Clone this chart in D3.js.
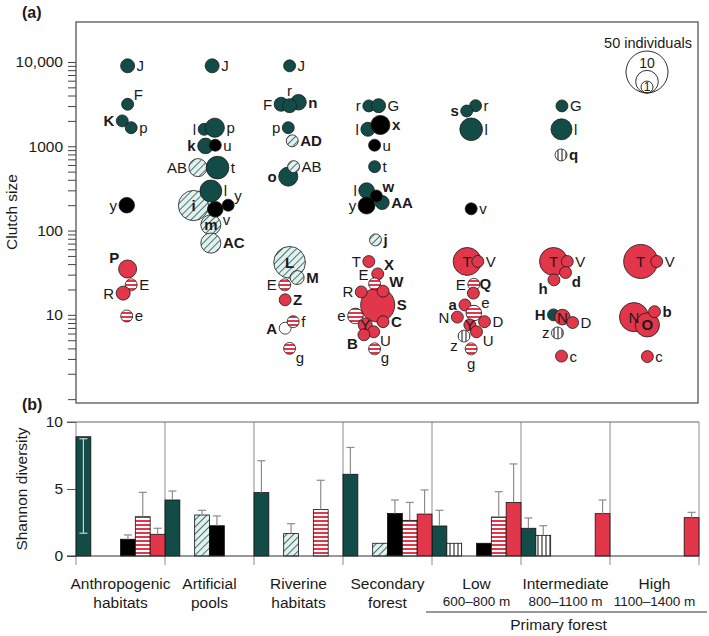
<!DOCTYPE html>
<html>
<head>
<meta charset="utf-8">
<script src="https://cdn.jsdelivr.net/npm/d3@7"></script>
<style>
body { margin: 0; background: #fff; }
svg text { font-family: "Liberation Sans", Arial, sans-serif; fill: #1a1a1a; }
</style>
</head>
<body>
<svg id="chart" width="709" height="636"></svg>
<script>
// habitats (x categories, shared by both panels)
var habitats = ["Anthropogenic habitats", "Artificial pools", "Riverine habitats", "Secondary forest", "Low", "Intermediate", "High"];
var habitatTop = ["Anthropogenic", "Artificial", "Riverine", "Secondary", "Low", "Intermediate", "High"];
var habitatSub = ["habitats", "pools", "habitats", "forest", "600–800 m", "800–1100 m", "1100–1400 m"];

// reproductive modes, in bar order: G green, V vertical stripes, H hatched, K black, S red stripes, R red, W open
var modes = ["G", "V", "H", "K", "S", "R"];

// panel (a): [species, clutch size, individuals, mode] per habitat
var anthropogenic = [["J", 9000, 2, "G"], ["F", 3150, 1, "G"], ["K", 2000, 1, "G"], ["p", 1660, 1, "G"], ["y", 200, 3, "K"],
  ["P", 35, 5, "R"], ["E", 22.7, 1, "S"], ["R", 18.1, 2, "R"], ["e", 9.7, 1, "S"]];
var pools = [["J", 9000, 2, "G"], ["l", 1590, 1, "G"], ["p", 1660, 6, "G"], ["k", 1010, 3, "G"], ["u", 1030, 1, "K"],
  ["AB", 558, 5, "H"], ["t", 558, 10, "G"], ["i", 198, 22, "H"], ["l", 295, 9, "G"], ["m", 117, 7, "H"],
  ["AC", 71, 7, "H"], ["v", 179, 3, "K"], ["y", 200, 1, "K"]];
var riverine = [["J", 9000, 1, "G"], ["F", 3150, 2, "G"], ["n", 3330, 3, "G"], ["r", 3030, 2, "G"], ["p", 1660, 1, "G"],
  ["AD", 1160, 1, "H"], ["o", 437, 6, "G"], ["AB", 573, 1, "H"], ["L", 42, 25, "H"], ["M", 27.7, 2, "H"],
  ["E", 22.7, 1, "S"], ["Z", 15.1, 1, "R"], ["A", 6.95, 1, "W"], ["f", 8.3, 1, "S"], ["g", 4.0, 1, "S"]];
var secondary = [["r", 3010, 1, "G"], ["G", 3030, 2, "G"], ["l", 1590, 2, "G"], ["x", 1790, 6, "K"], ["u", 1030, 1, "K"],
  ["t", 573, 1, "G"], ["l", 298, 3, "G"], ["AA", 215, 2, "G"], ["w", 257, 1, "K"], ["y", 198, 4, "K"],
  ["j", 77.5, 1, "H"], ["S", 13.1, 30, "R"], ["T", 42.9, 1, "R"], ["X", 30.6, 1, "R"], ["E", 23.3, 1, "S"],
  ["W", 19.1, 1, "R"], ["R", 18.7, 1, "R"], ["e", 9.7, 3, "S"], ["C", 8.3, 1, "R"], ["Y", 7.6, 2, "R"],
  ["U", 6.3, 1, "R"], ["B", 5.8, 1, "R"], ["g", 3.95, 1, "S"]];
var lowForest = [["r", 3030, 1, "G"], ["s", 2620, 1, "G"], ["l", 1590, 10, "G"], ["v", 181, 1, "K"], ["T", 43, 18, "R"],
  ["V", 43, 1, "R"], ["E", 23, 1, "S"], ["Q", 18.1, 1, "R"], ["a", 13.1, 1, "R"], ["e", 10.5, 3, "S"],
  ["N", 9.4, 1, "R"], ["D", 8.3, 1, "R"], ["Y", 7.6, 1, "R"], ["U", 6.3, 1, "R"], ["z", 5.6, 1, "V"], ["g", 3.95, 1, "S"]];
var midForest = [["G", 3010, 1, "G"], ["l", 1590, 8, "G"], ["q", 789, 1, "V"], ["T", 43, 18, "R"], ["V", 43, 1, "R"],
  ["d", 31.8, 1, "R"], ["h", 26, 1, "R"], ["H", 10, 1, "G"], ["N", 9.4, 3, "R"], ["D", 8.1, 1, "R"],
  ["z", 6.1, 1, "V"], ["c", 3.24, 1, "R"]];
var highForest = [["T", 43, 30, "R"], ["V", 43, 1, "R"], ["N", 9.4, 20, "R"], ["O", 7.6, 12, "R"], ["b", 10.9, 1, "R"], ["c", 3.2, 1, "R"]];
var boldSpecies = ["K", "P", "k", "i", "m", "AC", "n", "AD", "o", "L", "M", "Z", "A", "x", "w", "AA", "j", "X", "W", "S",
  "C", "B", "s", "Q", "a", "q", "d", "h", "H", "O", "b"];

// layout of the swarm: [horizontal jitter in column widths, label side], same order as above
var jitAnthro = [[.08, "r"], [.08, "tr"], [.02, "l"], [.12, "r"], [.07, "l"], [.08, "tl"], [.12, "r"], [.03, "l"], [.07, "r"]];
var jitPools = [[.03, "r"], [-.06, "l"], [.06, "r"], [-.045, "l"], [.065, "r"], [-.13, "l"], [.09, "r"], [-.18, "c"],
  [.015, "r"], [.015, "c"], [.015, "r"], [.065, "br"], [.21, "tr"]];
var jitRiver = [[-.10, "r"], [-.195, "l"], [0, "r"], [-.10, "t"], [-.115, "l"], [-.07, "r"], [-.115, "l"], [-.055, "r"],
  [-.10, "c"], [-.015, "r"], [-.155, "l"], [-.15, "r"], [-.15, "l"], [-.06, "r"], [-.10, "br"]];
var jitSecond = [[-.21, "l"], [-.10, "r"], [-.22, "l"], [-.08, "r"], [-.145, "r"], [-.145, "r"], [-.235, "l"], [-.06, "r"],
  [-.125, "tr"], [-.235, "l"], [-.135, "r"], [-.11, "r"], [-.21, "l"], [-.11, "tr"], [-.145, "tl"], [-.05, "tr"],
  [-.295, "l"], [-.36, "l"], [-.05, "r"], [-.25, "c"], [-.155, "br"], [-.265, "bl"], [-.145, "br"]];
var jitLow = [[-.01, "r"], [-.11, "l"], [-.06, "r"], [-.06, "r"], [-.105, "c"], [.015, "r"], [-.03, "l"], [-.035, "tr"],
  [-.13, "l"], [-.03, "tr"], [-.215, "l"], [.09, "r"], [-.075, "c"], [0, "br"], [-.14, "bl"], [-.06, "b"]];
var jitMid = [[-.04, "r"], [-.045, "r"], [-.05, "r"], [-.135, "c"], [.02, "r"], [0, "br"], [-.13, "bl"], [-.135, "l"],
  [-.035, "c"], [.08, "r"], [-.09, "l"], [-.045, "r"]];
var jitHigh = [[-.155, "c"], [.025, "r"], [-.23, "c"], [-.08, "c"], [0, "r"], [-.08, "r"]];

// y axis ticks of panel (a)
var clutchLabelValues = [10, 100, 1000, 10000];
var clutchLabelText = ["10", "100", "1000", "10,000"];
var legendCounts = [50, 10, 1];

// panel (b): mean Shannon diversity and standard error per habitat, one array per mode
var divGreen = [8.9, 4.18, 4.73, 6.1, 2.24, 2.07, null];
var divVert = [null, null, null, null, 0.95, 1.54, null];
var divHatch = [null, 3.06, 1.67, 0.95, null, null, null];
var divBlack = [1.25, 2.26, null, 3.18, 0.95, null, null];
var divStripe = [2.93, null, 3.46, 2.66, 2.91, null, null];
var divRed = [1.62, null, null, 3.13, 4.0, 3.16, 2.86];
var seGreen = [7.2, 0.67, 2.38, 2.0, 1.17, 0.77, null];
var seVert = [null, null, null, null, 0, 0.72, null];
var seHatch = [null, 0.35, 0.74, 0, null, null, null];
var seBlack = [0.32, 0.73, null, 1.0, 0, null, null];
var seStripe = [1.82, null, 2.19, 1.34, 1.89, null, null];
var seRed = [0.45, null, null, 1.8, 2.87, 1.02, 0.4];

var teal = "#134c47", red = "#e2364a";
var svg = d3.select("#chart");
var defs = svg.append("defs");

var hp = defs.append("pattern").attr("id", "hatch").attr("patternUnits", "userSpaceOnUse")
  .attr("width", 5).attr("height", 5).attr("patternTransform", "rotate(45)");
hp.append("rect").attr("width", 5).attr("height", 5).attr("fill", "#e3f0ee");
hp.append("line").attr("x1", 0).attr("y1", 0).attr("x2", 0).attr("y2", 5).attr("stroke", teal).attr("stroke-width", 1.5);

var rs = defs.append("pattern").attr("id", "rstripe").attr("patternUnits", "userSpaceOnUse").attr("width", 4).attr("height", 4);
rs.append("rect").attr("width", 4).attr("height", 4).attr("fill", "#fff");
rs.append("rect").attr("width", 4).attr("height", 2).attr("fill", red);

var vs = defs.append("pattern").attr("id", "vstripe").attr("patternUnits", "userSpaceOnUse").attr("width", 4).attr("height", 4);
vs.append("rect").attr("width", 4).attr("height", 4).attr("fill", "#fff");
vs.append("line").attr("x1", 2).attr("y1", 0).attr("x2", 2).attr("y2", 4).attr("stroke", "#111").attr("stroke-width", 1);

var fillOf = { G: teal, V: "url(#vstripe)", H: "url(#hatch)", K: "#000", S: "url(#rstripe)", R: red, W: "#fff" };

var x = d3.scaleBand().domain(habitats).range([76, 699]);
var slot = d3.scaleBand().domain(modes).range([0, x.bandwidth()]);
var yTop = d3.scaleLog().domain([0.9, 29800]).range([403, 22]);
var rSize = d3.scaleSqrt().domain([0, 50]).range([3.5, 21]);
var yBot = d3.scaleLinear().domain([0, 10]).range([556, 422]);

// ---------- panel (a) ----------
svg.append("text").attr("x", 22).attr("y", 18).attr("font-size", 16).attr("font-weight", "bold").text("(a)");
svg.append("rect").attr("x", 76).attr("y", 22).attr("width", 622).attr("height", 381)
  .attr("fill", "none").attr("stroke", "#555").attr("stroke-width", 1.3);

var clutchTicks = [];
[1, 10, 100, 1000].forEach(function(d) { for (var k = 1; k < 10; k++) clutchTicks.push(d * k); });
clutchTicks.push(10000);
var yAxisA = svg.append("g").attr("transform", "translate(76,0)")
  .call(d3.axisLeft(yTop).tickValues(clutchTicks).tickSize(8).tickPadding(5)
    .tickFormat(function(d) { var i = clutchLabelValues.indexOf(d); return i < 0 ? "" : clutchLabelText[i]; }));
yAxisA.select(".domain").remove();
yAxisA.selectAll("line").attr("stroke", "#444");
yAxisA.selectAll("text").attr("font-size", 15.5).attr("fill", "#1a1a1a");

svg.append("text").attr("transform", "translate(17,212) rotate(-90)").attr("text-anchor", "middle")
  .attr("font-size", 15.5).text("Clutch size");

var columns = [anthropogenic, pools, riverine, secondary, lowForest, midForest, highForest];
var jitters = [jitAnthro, jitPools, jitRiver, jitSecond, jitLow, jitMid, jitHigh];
var bubbles = [];
columns.forEach(function(col, ci) {
  col.forEach(function(d, i) {
    bubbles.push({ habitat: habitats[ci], code: d[0], clutch: d[1], n: d[2], mode: d[3], jit: jitters[ci][i][0], side: jitters[ci][i][1] });
  });
});
bubbles.forEach(function(b) {
  b.cx = x(b.habitat) + x.bandwidth() * (0.5 + b.jit);
  b.cy = yTop(b.clutch);
  b.r = rSize(b.n);
});

svg.append("g").selectAll("circle").data(bubbles).join("circle")
  .attr("cx", function(d) { return d.cx; })
  .attr("cy", function(d) { return d.cy; })
  .attr("r", function(d) { return d.r; })
  .attr("fill", function(d) { return fillOf[d.mode]; })
  .attr("stroke", "#1a1a1a").attr("stroke-width", 0.8);

function labelPos(d) {
  var r = d.r, k = r * 0.7;
  switch (d.side) {
    case "r": return [d.cx + r + 2, d.cy, "start"];
    case "l": return [d.cx - r - 2, d.cy, "end"];
    case "t": return [d.cx, d.cy - r - 8, "middle"];
    case "b": return [d.cx, d.cy + r + 9, "middle"];
    case "tr": return [d.cx + k + 2, d.cy - k - 5, "start"];
    case "tl": return [d.cx - k - 2, d.cy - k - 5, "end"];
    case "br": return [d.cx + k + 2, d.cy + k + 5, "start"];
    case "bl": return [d.cx - k - 2, d.cy + k + 5, "end"];
    default: return [d.cx, d.cy, "middle"];
  }
}
svg.append("g").selectAll("text").data(bubbles).join("text")
  .each(function(d) {
    var p = labelPos(d);
    d3.select(this).attr("x", p[0]).attr("y", p[1]).attr("text-anchor", p[2]);
  })
  .attr("dy", "0.36em").attr("font-size", 15)
  .attr("font-weight", function(d) { return boldSpecies.indexOf(d.code) >= 0 ? "bold" : "normal"; })
  .text(function(d) { return d.code; });

// size legend
var legX = 647, legBottom = 93;
svg.append("text").attr("x", legX + 1).attr("y", 48).attr("text-anchor", "middle").attr("font-size", 14.5).text("50 individuals");
svg.append("g").selectAll("circle").data(legendCounts).join("circle")
  .attr("cx", legX).attr("cy", function(d) { return legBottom - rSize(d); })
  .attr("r", function(d) { return rSize(d); })
  .attr("fill", "none").attr("stroke", "#1a1a1a").attr("stroke-width", 0.9);
svg.append("text").attr("x", legX).attr("y", legBottom - 2 * rSize(10) - 2).attr("text-anchor", "middle")
  .attr("font-size", 14).text(legendCounts[1]);
svg.append("text").attr("x", legX).attr("y", legBottom - rSize(1)).attr("dy", "0.36em").attr("text-anchor", "middle")
  .attr("font-size", 12).text(legendCounts[2]);

// ---------- panel (b) ----------
svg.append("text").attr("x", 22).attr("y", 410).attr("font-size", 16).attr("font-weight", "bold").text("(b)");

var bounds = habitats.map(function(h) { return x(h); }).concat([x.range()[1]]);
svg.append("g").selectAll("line").data(bounds).join("line")
  .attr("x1", function(d) { return d; }).attr("x2", function(d) { return d; })
  .attr("y1", yBot(10)).attr("y2", yBot(0) + 9)
  .attr("stroke", "#8c8c8c").attr("stroke-width", 1);
svg.append("line").attr("x1", 67).attr("x2", 699).attr("y1", yBot(10)).attr("y2", yBot(10))
  .attr("stroke", "#666").attr("stroke-width", 1.2);

var yAxisB = svg.append("g").attr("transform", "translate(76,0)")
  .call(d3.axisLeft(yBot).tickValues([0, 5, 10]).tickSize(9).tickPadding(4));
yAxisB.select(".domain").remove();
yAxisB.selectAll("line").attr("stroke", "#555");
yAxisB.selectAll("text").attr("font-size", 15.5).attr("fill", "#1a1a1a");

svg.append("text").attr("transform", "translate(27,489) rotate(-90)").attr("text-anchor", "middle")
  .attr("font-size", 15.5).text("Shannon diversity");

var means = { G: divGreen, V: divVert, H: divHatch, K: divBlack, S: divStripe, R: divRed };
var ses = { G: seGreen, V: seVert, H: seHatch, K: seBlack, S: seStripe, R: seRed };
var bars = [];
modes.forEach(function(m) {
  means[m].forEach(function(v, i) {
    if (v != null) bars.push({ mode: m, habitat: habitats[i], mean: v, se: ses[m][i] });
  });
});

svg.append("g").selectAll("rect").data(bars).join("rect")
  .attr("x", function(d) { return x(d.habitat) + slot(d.mode); })
  .attr("y", function(d) { return yBot(d.mean); })
  .attr("width", slot.bandwidth())
  .attr("height", function(d) { return yBot(0) - yBot(d.mean); })
  .attr("fill", function(d) { return fillOf[d.mode]; })
  .attr("stroke", "#111").attr("stroke-width", 0.8);

// error bars: upper whisker, or lower whisker inside the bar when the upper one leaves the axis
var err = svg.append("g");
bars.filter(function(d) { return d.se > 0; }).forEach(function(d) {
  var cx = x(d.habitat) + slot(d.mode) + slot.bandwidth() / 2;
  var inside = d.mean + d.se > 10;
  var y0 = yBot(d.mean), y1 = inside ? yBot(d.mean - d.se) : yBot(d.mean + d.se);
  var col = inside ? "#c9d6d3" : "#8c8c8c";
  err.append("line").attr("x1", cx).attr("x2", cx).attr("y1", inside ? y0 + 2 : y0).attr("y2", y1)
    .attr("stroke", col).attr("stroke-width", 1.2);
  err.append("line").attr("x1", cx - 4).attr("x2", cx + 4).attr("y1", y1).attr("y2", y1)
    .attr("stroke", col).attr("stroke-width", 1.2);
  if (inside) err.append("line").attr("x1", cx - 4).attr("x2", cx + 4).attr("y1", y0 + 2).attr("y2", y0 + 2)
    .attr("stroke", col).attr("stroke-width", 1.2);
});

svg.append("line").attr("x1", 67).attr("x2", 699).attr("y1", yBot(0)).attr("y2", yBot(0))
  .attr("stroke", "#333").attr("stroke-width", 1.2);

// category labels
var lab = svg.append("g").attr("text-anchor", "middle");
habitats.forEach(function(h, i) {
  var cx = x(h) + x.bandwidth() / 2;
  var primary = i >= 4;
  lab.append("text").attr("x", cx).attr("y", 589).attr("font-size", 15.5).text(habitatTop[i]);
  lab.append("text").attr("x", cx).attr("y", primary ? 606 : 608).attr("font-size", primary ? 13.5 : 15.5).text(habitatSub[i]);
});
var pfLeft = x("Low") - 6, pfRight = x("High") + x.bandwidth() + 8;
svg.append("line").attr("x1", pfLeft).attr("x2", pfRight).attr("y1", 612).attr("y2", 612)
  .attr("stroke", "#333").attr("stroke-width", 1);
svg.append("text").attr("x", (pfLeft + pfRight) / 2 - 8).attr("y", 630).attr("text-anchor", "middle")
  .attr("font-size", 15.5).text("Primary forest");
</script>
</body>
</html>
